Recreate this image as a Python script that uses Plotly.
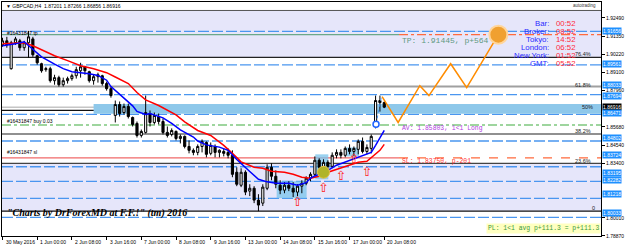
import plotly.graph_objects as go

# ---------------- data (GBPCAD H4) ----------------
bars = list(range(89))
opens = [1.9081, 1.9106, 1.8932, 1.9094, 1.9106, 1.9063, 1.9094, 1.9118, 1.9013, 1.8963,
         1.8926, 1.8932, 1.8857, 1.8876, 1.8832, 1.8857, 1.8870, 1.8888, 1.8919, 1.8944,
         1.8913, 1.8857, 1.8882, 1.8888, 1.8839, 1.8807, 1.8640, 1.8708, 1.8658, 1.8696,
         1.8627, 1.8590, 1.8515, 1.8534, 1.8652, 1.8596, 1.8633, 1.8602, 1.8534, 1.8521,
         1.8540, 1.8496, 1.8509, 1.8446, 1.8422, 1.8409, 1.8446, 1.8471, 1.8403, 1.8446,
         1.8409, 1.8415, 1.8409, 1.8391, 1.8285, 1.8204, 1.8285, 1.8167, 1.8185, 1.8111,
         1.8092, 1.8185, 1.8316, 1.8260, 1.8204, 1.8173, 1.8204, 1.8185, 1.8161, 1.8198,
         1.8216, 1.8248, 1.8272, 1.8360, 1.8316, 1.8347, 1.8322, 1.8391, 1.8409, 1.8391,
         1.8434, 1.8415, 1.8428, 1.8478, 1.8415, 1.8434, 1.8577, 1.8733, 1.87201]
highs = [1.9125, 1.9131, 1.9106, 1.9131, 1.9118, 1.9106, 1.9168, 1.9131, 1.9019, 1.8969,
         1.8944, 1.8944, 1.8894, 1.8888, 1.8876, 1.8882, 1.8901, 1.8944, 1.8969, 1.8950,
         1.8919, 1.8894, 1.8907, 1.8894, 1.8851, 1.8820, 1.8733, 1.8727, 1.8714, 1.8714,
         1.8633, 1.8602, 1.8552, 1.8764, 1.8671, 1.8658, 1.8652, 1.8621, 1.8571, 1.8559,
         1.8546, 1.8521, 1.8515, 1.8484, 1.8434, 1.8459, 1.8490, 1.8478, 1.8471, 1.8459,
         1.8428, 1.8434, 1.8434, 1.8422, 1.8316, 1.8310, 1.8297, 1.8210, 1.8198, 1.8148,
         1.8210, 1.8335, 1.8341, 1.8297, 1.8235, 1.8223, 1.8229, 1.8223, 1.8210, 1.8235,
         1.8260, 1.8285, 1.8384, 1.8372, 1.8366, 1.8360, 1.8409, 1.8428, 1.8428, 1.8446,
         1.8459, 1.8446, 1.8490, 1.8502, 1.8459, 1.8521, 1.8764, 1.8764, 1.87266]
lows = [1.9069, 1.9063, 1.8926, 1.9081, 1.9044, 1.9044, 1.9000, 1.9006, 1.8957, 1.8907,
        1.8913, 1.8845, 1.8832, 1.8820, 1.8820, 1.8839, 1.8857, 1.8870, 1.8876, 1.8894,
        1.8845, 1.8832, 1.8845, 1.8826, 1.8795, 1.8751, 1.8596, 1.8633, 1.8646, 1.8621,
        1.8571, 1.8502, 1.8502, 1.8527, 1.8571, 1.8584, 1.8584, 1.8521, 1.8502, 1.8509,
        1.8484, 1.8465, 1.8434, 1.8403, 1.8391, 1.8391, 1.8409, 1.8378, 1.8391, 1.8378,
        1.8378, 1.8384, 1.8372, 1.8254, 1.8198, 1.8192, 1.8142, 1.8136, 1.8092, 1.8042,
        1.8074, 1.8173, 1.8235, 1.8185, 1.8148, 1.8154, 1.8167, 1.8130, 1.8136, 1.8154,
        1.8204, 1.8229, 1.8260, 1.8291, 1.8285, 1.8297, 1.8310, 1.8372, 1.8372, 1.8378,
        1.8397, 1.8384, 1.8397, 1.8403, 1.8397, 1.8403, 1.8559, 1.8664, 1.86856]
closes = [1.9106, 1.9081, 1.9094, 1.9118, 1.9063, 1.9094, 1.9131, 1.9019, 1.8969, 1.8919,
          1.8932, 1.8857, 1.8876, 1.8832, 1.8857, 1.8870, 1.8888, 1.8926, 1.8944, 1.8919,
          1.8857, 1.8882, 1.8894, 1.8839, 1.8807, 1.8764, 1.8708, 1.8652, 1.8696, 1.8633,
          1.8584, 1.8515, 1.8540, 1.8658, 1.8596, 1.8640, 1.8602, 1.8534, 1.8515, 1.8546,
          1.8496, 1.8509, 1.8446, 1.8422, 1.8409, 1.8446, 1.8478, 1.8397, 1.8453, 1.8409,
          1.8422, 1.8403, 1.8391, 1.8272, 1.8210, 1.8285, 1.8161, 1.8185, 1.8111, 1.8080,
          1.8192, 1.8316, 1.8260, 1.8210, 1.8173, 1.8204, 1.8185, 1.8161, 1.8198, 1.8216,
          1.8248, 1.8272, 1.8360, 1.8316, 1.8347, 1.8322, 1.8391, 1.8409, 1.8391, 1.8434,
          1.8415, 1.8434, 1.8478, 1.8415, 1.8440, 1.8509, 1.8733, 1.8720, 1.86916]

# moving averages (bar, price)
ma_fast_bars = [0, 3, 5, 7, 9, 12, 14, 16, 18, 20, 22, 24, 25, 28, 30, 31, 33, 34, 37, 39, 41, 44,
                45, 47, 50, 52, 54, 57, 59, 61, 63, 66, 68, 70, 71, 72, 75, 77, 80, 82, 83, 85, 86, 87, 88]
ma_fast = [1.9075, 1.9087, 1.9100, 1.9050, 1.9006, 1.8960, 1.8932, 1.8913, 1.8907, 1.8901, 1.8890,
           1.8860, 1.8820, 1.8745, 1.8700, 1.8665, 1.8646, 1.8652, 1.8625, 1.8590, 1.8550, 1.8505,
           1.8480, 1.8456, 1.8442, 1.8422, 1.8365, 1.8290, 1.8241, 1.8225, 1.8216, 1.8216, 1.8204,
           1.8220, 1.8248, 1.8262, 1.8297, 1.8329, 1.8360, 1.8378, 1.8391, 1.8409, 1.8453, 1.8496, 1.8546]
ma_slow_bars = [0, 3, 5, 7, 9, 12, 15, 18, 21, 24, 26, 29, 31, 33, 36, 38, 40, 42, 45, 48, 51, 53,
                55, 58, 60, 62, 65, 67, 69, 71, 73, 75, 78, 80, 82, 84, 85, 87, 88]
ma_slow = [1.9087, 1.9094, 1.9094, 1.9075, 1.9050, 1.9013, 1.8982, 1.8950, 1.8932, 1.8907, 1.8880,
           1.8839, 1.8783, 1.8737, 1.8702, 1.8671, 1.8643, 1.8600, 1.8546, 1.8515, 1.8453, 1.8403,
           1.8350, 1.8316, 1.8310, 1.8291, 1.8285, 1.8272, 1.8254, 1.8248, 1.8260, 1.8285, 1.8310,
           1.8329, 1.8347, 1.8353, 1.8378, 1.8422, 1.8459]

# projected path (orange zigzag) to the target
proj_bars = [87.5, 91.2, 96.2, 98.3, 103.3, 107.0, 114.3]
proj_price = [1.8758, 1.8596, 1.8826, 1.8764, 1.8963, 1.8814, 1.91445]

# levels
tp_price, sl_price, av_price, bid_price = 1.91445, 1.83750, 1.85803, 1.86916
blue_levels = [1.91656, 1.89561, 1.87694, 1.84802, 1.83195, 1.82282, 1.81218, 1.80033]
blue_level_mid = 1.86471
fib_names = ["100", "76.4%", "61.8%", "50%", "38.2%", "23.6%", "0"]
fib_prices = [1.92956, 1.9003, 1.8820, 1.8671, 1.8524, 1.8341, 1.8042]

# time axis labels
time_ticks = [0, 8, 16, 24, 32, 40, 48, 56, 64, 72, 80, 88]
time_labels = ["30 May 2016", "1 Jun 00:00", "2 Jun 08:00", "3 Jun 16:00", "7 Jun 00:00",
               "8 Jun 08:00", "9 Jun 16:00", "13 Jun 00:00", "14 Jun 08:00", "15 Jun 16:00",
               "17 Jun 00:00", "20 Jun 08:00"]
price_ticks = [1.92490, 1.91355, 1.90220, 1.89085, 1.87950, 1.85680, 1.84545, 1.83410, 1.80005, 1.78870]
price_tick_text = ["1.92490", "1.91350", "1.90220", "1.89100", "1.87960", "1.85680", "1.84540",
                   "1.83400", "1.80010", "1.78870"]

# highlighted price boxes on the scale: (text, price position, bg)
box_text = ["1.91656", "1.89561", "1.88033", "1.87694", "1.86916", "1.86471", "1.84802",
            "1.83724", "1.83195", "1.82282", "1.81218", "1.80033"]
box_pos = [1.91656, 1.89590, 1.88320, 1.87640, 1.86950, 1.86580, 1.84980, 1.83906,
           1.82810, 1.82350, 1.81480, 1.80300]
box_bg = ["#1e90ff"] * 4 + ["#000000"] + ["#1e90ff"] * 7

# signal arrows & markers
arrow_bars = [68, 74, 78, 81, 84]
arrow_price = [1.8092, 1.8185, 1.8254, 1.8366, 1.8285]

clock_names = ["Bar:", "Broker:", "Tokyo:", "London:", "New York:", "GMT:"]
clock_values = ["00:52", "08:52", "14:52", "06:52", "01:52", "05:52"]

# ---------------- layout geometry ----------------
W, H = 625, 247
ML, MR, MT, MB = 1, 22, 1, 11
PW, PH = W - ML - MR, H - MT - MB
XR = [-0.115, 137.96]
YR = [1.78868, 1.93485]


def xp(px):
    return (px - ML) / PW


def yp(py):
    return 1 - (py - MT) / PH


fig = go.Figure()

fig.add_trace(go.Candlestick(
    x=bars, open=opens, high=highs, low=lows, close=closes,
    increasing=dict(line=dict(color="black", width=1), fillcolor="white"),
    decreasing=dict(line=dict(color="black", width=1), fillcolor="black"),
    whiskerwidth=0, showlegend=False, hoverinfo="skip"))

fig.add_trace(go.Scatter(x=ma_slow_bars, y=ma_slow, mode="lines",
                         line=dict(color="#ff0000", width=1.5), showlegend=False, hoverinfo="skip"))
fig.add_trace(go.Scatter(x=ma_fast_bars, y=ma_fast, mode="lines",
                         line=dict(color="#0000ff", width=1.5), showlegend=False, hoverinfo="skip"))

fig.add_trace(go.Scatter(x=proj_bars, y=proj_price, mode="lines",
                         line=dict(color="#ff8c00", width=1.5), showlegend=False, hoverinfo="skip"))
fig.add_trace(go.Scatter(x=[proj_bars[-1]], y=[proj_price[-1]], mode="markers",
                         marker=dict(size=18, color="#f0a030", line=dict(color="#ffd59a", width=2)),
                         showlegend=False, hoverinfo="skip"))

# entry marker
fig.add_trace(go.Scatter(x=[86.1, 87.3], y=[av_price + 0.0004, 1.8752], mode="lines",
                         line=dict(color="#4a96f0", width=1, dash="dot"), showlegend=False, hoverinfo="skip"))
fig.add_trace(go.Scatter(x=[86.1], y=[av_price + 0.0004], mode="markers",
                         marker=dict(size=6, color="white", line=dict(color="#1e64ff", width=1.5)),
                         showlegend=False, hoverinfo="skip"))

# yellow-green dot
fig.add_trace(go.Scatter(x=[74], y=[1.8285], mode="markers",
                         marker=dict(size=12, color="#b0b428", line=dict(color="#e8c040", width=1)),
                         showlegend=False, hoverinfo="skip"))

# up arrows
fig.add_trace(go.Scatter(x=arrow_bars, y=arrow_price, mode="text", text=["⇧"] * len(arrow_bars),
                         textfont=dict(color="#ff2020", size=13, family="DejaVu Sans"),
                         showlegend=False, hoverinfo="skip"))

shapes = []


def hline(price, color, width=1, dash="solid", x0=None, x1=None):
    if x0 is None and x1 is None:
        shapes.append(dict(type="line", xref="paper", x0=0, x1=1, yref="y", y0=price, y1=price,
                           line=dict(color=color, width=width, dash=dash), layer="below"))
    else:
        shapes.append(dict(type="line", xref="x", x0=x0, x1=x1, yref="y", y0=price, y1=price,
                           line=dict(color=color, width=width, dash=dash), layer="below"))


# lavender fib zones
shapes.append(dict(type="rect", xref="paper", x0=0, x1=1, yref="y", y0=fib_prices[1], y1=fib_prices[0],
                   fillcolor="#e6e6fa", line=dict(width=0), layer="below"))
shapes.append(dict(type="rect", xref="paper", x0=0, x1=1, yref="y", y0=fib_prices[6], y1=fib_prices[5],
                   fillcolor="#e6e6fa", line=dict(width=0), layer="below"))

fib_colors = ["#555555", "#222222", "#a0a0a0", "#111111", "#222222", "#444444", "#111111"]
fib_widths = [1, 1.2, 2, 1.2, 1.2, 1.2, 1.2]
for i in [0, 1, 2, 4, 5, 6]:
    hline(fib_prices[i], fib_colors[i], fib_widths[i])

hline(bid_price, "#a8a8a8", 1)

for p in blue_levels:
    hline(p, "#4a96f0", 1.3, "11px,3px")

hline(tp_price, "#6aa88a", 1.2, "solid", XR[0], 91.4)
hline(tp_price, "#ff6a3d", 1.2, "dashdot", 91.4, XR[1])
hline(av_price, "#7fc87f", 1.5, "dashdot")
hline(sl_price, "#f06868", 1.3, "solid", XR[0], 91.4)
hline(sl_price, "#ff6a3d", 1.3, "dash", 91.4, XR[1])

# main light-blue zone
shapes.append(dict(type="rect", xref="x", x0=21.0, x1=XR[1], yref="y", y0=1.8650, y1=1.8712,
                   fillcolor="#8ec8ea", line=dict(width=0), layer="below"))
hline(fib_prices[3], fib_colors[3], fib_widths[3])
hline(blue_level_mid, "#4a96f0", 1.3, "11px,3px")

# lower boxes
for x0, x1, y0, y1 in [(63.2, 70.1, 1.8123, 1.8229), (72.1, 75.1, 1.8241, 1.8397), (79.2, 82.2, 1.8384, 1.8440)]:
    shapes.append(dict(type="rect", xref="x", x0=x0, x1=x1, yref="y", y0=y0, y1=y1,
                       fillcolor="rgba(120,195,235,0.75)", line=dict(width=0), layer="below"))

ann = []
small = dict(family="Liberation Sans", size=5, color="black")

ann.append(dict(xref="paper", yref="paper", x=xp(3), y=yp(5), xanchor="left", yanchor="middle",
                text="▼ GBPCAD,H4  1.87201 1.87266 1.86856 1.86916", showarrow=False, font=small))
ann.append(dict(xref="paper", yref="paper", x=xp(600), y=yp(5), xanchor="right", yanchor="middle",
                text="autotrading", showarrow=False, font=dict(family="Liberation Sans", size=4.5, color="#333")))

for t, py in [("#16431847 tp", 32), ("#16431847 buy 0.03", 121), ("#16431847 sl", 152)]:
    ann.append(dict(xref="paper", yref="paper", x=xp(4), y=yp(py), xanchor="left", yanchor="middle",
                    text=t, showarrow=False, font=small))

mono = "Liberation Mono"
ann.append(dict(xref="paper", yref="paper", x=xp(401), y=yp(40), xanchor="left", yanchor="middle",
                text="TP: 1.91445, p+564", showarrow=False, font=dict(family=mono, size=8, color="#5f9a82")))
ann.append(dict(xref="paper", yref="paper", x=xp(401), y=yp(128.5), xanchor="left", yanchor="middle",
                text="AV: 1.85803, 1<1 Long", showarrow=False, font=dict(family=mono, size=6.4, color="#b040e0")))
ann.append(dict(xref="paper", yref="paper", x=xp(401), y=yp(161), xanchor="left", yanchor="middle",
                text="SL: 1.83750, p-201", showarrow=False, font=dict(family=mono, size=6.4, color="#ff3030")))
ann.append(dict(xref="paper", yref="paper", x=1, y=yp(228.5), xanchor="right", yanchor="middle",
                text="PL: 1<1 avg p+111.3 = p+111.3", showarrow=False, bgcolor="#ffffc0", borderpad=1,
                font=dict(family=mono, size=6.4, color="#3c9a3c")))

ann.append(dict(xref="paper", yref="paper", x=xp(4), y=yp(213), xanchor="left", yanchor="middle",
                text="\"Charts by DrForexMD at F.F.!\" (tm) 2016", showarrow=False,
                font=dict(family="Liberation Serif", size=10, color="black", style="italic", weight="bold")))

# fib labels
for t, px_r, py in [("76.4%", 595, 53), ("61.8%", 595, 84), ("50%", 597, 106), ("38.2%", 595, 130.5),
                    ("23.6%", 595, 160.5), ("0", 599, 208)]:
    ann.append(dict(xref="paper", yref="paper", x=xp(px_r), y=yp(py), xanchor="right", yanchor="middle",
                    text=t, showarrow=False, font=dict(family="Liberation Sans", size=5.5, color="#222")))

# clock
clock_y = [22.7, 30.7, 38.3, 46.7, 54.3, 62.7]
for n, v, py in zip(clock_names, clock_values, clock_y):
    ann.append(dict(xref="paper", yref="paper", x=xp(553), y=yp(py), xanchor="right", yanchor="middle",
                    text=n, showarrow=False, font=dict(family="Liberation Sans", size=7.8, color="#2a2aff")))
    ann.append(dict(xref="paper", yref="paper", x=xp(556), y=yp(py), xanchor="left", yanchor="middle",
                    text=v, showarrow=False, font=dict(family="Liberation Sans", size=7.8, color="#ff2a3a")))

# time labels (left aligned after tick)
for b, t in zip(time_ticks, time_labels):
    ann.append(dict(xref="x", yref="paper", x=b, y=0, xanchor="left", yanchor="top", xshift=1, yshift=-1,
                    text=t, showarrow=False, font=small))

# highlighted price boxes
for t, p, bg in zip(box_text, box_pos, box_bg):
    ann.append(dict(xref="paper", yref="y", x=1, y=p, xanchor="left", yanchor="middle", xshift=1,
                    text=t, showarrow=False, bgcolor=bg, borderpad=0,
                    font=dict(family="Liberation Sans", size=5, color="white")))

fig.update_layout(
    width=W, height=H, margin=dict(l=ML, r=MR, t=MT, b=MB),
    paper_bgcolor="white", plot_bgcolor="white",
    shapes=shapes, annotations=ann, showlegend=False,
    xaxis=dict(range=XR, showgrid=False, zeroline=False, rangeslider=dict(visible=False),
               showline=True, linecolor="black", linewidth=1, mirror=True,
               tickvals=time_ticks, showticklabels=False, ticks="outside", ticklen=3,
               tickcolor="black", fixedrange=True),
    yaxis=dict(range=YR, side="right", showgrid=False, zeroline=False,
               showline=True, linecolor="black", linewidth=1, mirror=True,
               tickvals=price_ticks, ticktext=price_tick_text, ticks="outside", ticklen=3,
               tickcolor="black", tickfont=dict(family="Liberation Sans", size=5, color="black"),
               fixedrange=True),
)

fig.write_html("out.html")
